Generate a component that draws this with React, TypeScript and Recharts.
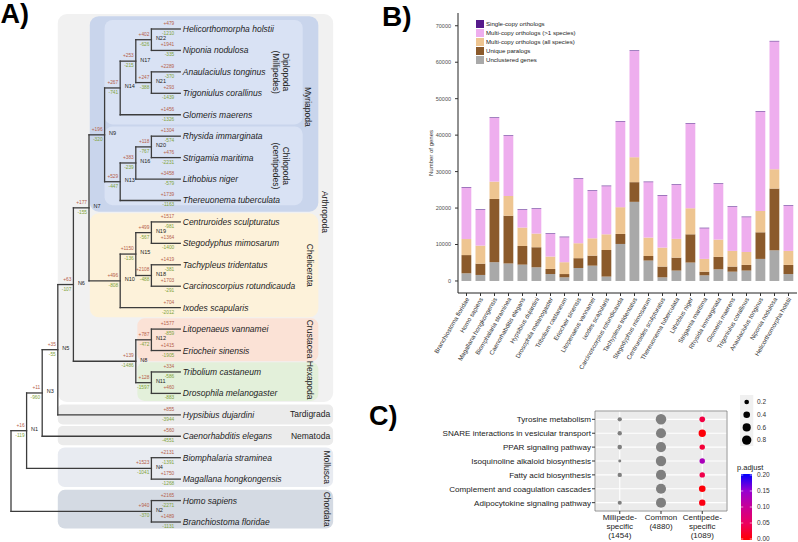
import React from "react";
import {
  ScatterChart,
  Scatter,
  XAxis,
  YAxis,
  ZAxis,
  ReferenceArea,
  ReferenceLine,
  BarChart,
  Bar,
  CartesianGrid,
  Legend,
  Cell,
} from "recharts";

const FONT = "'Liberation Sans', Arial, Helvetica, sans-serif";

// ---------------- Panel A data: species tree ----------------
const species = [
  "Helicorthomorpha holstii",
  "Niponia nodulosa",
  "Anaulaciulus tonginus",
  "Trigoniulus corallinus",
  "Glomeris maerens",
  "Rhysida immarginata",
  "Strigamia maritima",
  "Lithobius niger",
  "Thereuonema tuberculata",
  "Centruroides sculpturatus",
  "Stegodyphus mimosarum",
  "Tachypleus tridentatus",
  "Carcinoscorpius rotundicauda",
  "Ixodes scapularis",
  "Litopenaeus vannamei",
  "Eriocheir sinensis",
  "Tribolium castaneum",
  "Drosophila melanogaster",
  "Hypsibius dujardini",
  "Caenorhabditis elegans",
  "Biomphalaria straminea",
  "Magallana hongkongensis",
  "Homo sapiens",
  "Branchiostoma floridae",
];
const speciesGain = [479, 1941, 2289, 293, 1456, 1304, 476, 3458, 1739, 1517, 1364, 1419, 1703, 704, 1577, 1415, 334, 460, 855, 560, 2131, 1750, 2165, 1489];
const speciesLoss = [1210, 335, 370, 1439, 1326, 574, 2231, 579, 1163, 981, 1400, 381, 291, 2012, 859, 1905, 586, 883, 3944, 4551, 1391, 1268, 2271, 1131];

const nodeNames = ["Root", "N1", "N2", "N3", "N4", "N5", "N6", "N7", "N8", "N9", "N10", "N11", "N12", "N13", "N14", "N15", "N16", "N17", "N18", "N19", "N20", "N21", "N22"];
const nodeDepth = [0, 1, 9, 2, 9, 3, 4, 5, 8, 6, 7, 9, 9, 7, 7, 8, 8, 8, 9, 9, 9, 9, 9];
const nodeChildren = [
  ["N1", "N2"],
  ["N3", "N4"],
  ["Homo sapiens", "Branchiostoma floridae"],
  ["N5", "Caenorhabditis elegans"],
  ["Biomphalaria straminea", "Magallana hongkongensis"],
  ["N6", "Hypsibius dujardini"],
  ["N7", "N8"],
  ["N9", "N10"],
  ["N12", "N11"],
  ["N14", "N13"],
  ["N15", "Ixodes scapularis"],
  ["Tribolium castaneum", "Drosophila melanogaster"],
  ["Litopenaeus vannamei", "Eriocheir sinensis"],
  ["N16", "Thereuonema tuberculata"],
  ["N17", "Glomeris maerens"],
  ["N19", "N18"],
  ["N20", "Lithobius niger"],
  ["N22", "N21"],
  ["Tachypleus tridentatus", "Carcinoscorpius rotundicauda"],
  ["Centruroides sculpturatus", "Stegodyphus mimosarum"],
  ["Rhysida immarginata", "Strigamia maritima"],
  ["Anaulaciulus tonginus", "Trigoniulus corallinus"],
  ["Helicorthomorpha holstii", "Niponia nodulosa"],
];
const nodeGain = [0, 16, 940, 11, 1523, 35, 63, 177, 139, 196, 496, 128, 787, 529, 267, 1150, 383, 253, 2108, 499, 118, 247, 402];
const nodeLoss = [0, 119, 370, 960, 1041, 55, 107, 155, 1486, 320, 808, 1597, 472, 447, 741, 136, 239, 215, 488, 567, 767, 388, 626];

const LEAF_DEPTH = 10.85;

type TNode = { name: string; depth: number; y: number; gain: number; loss: number; kids: string[]; leaf: boolean };
const tree: Record<string, TNode> = {};
species.forEach((s, i) => {
  tree[s] = { name: s, depth: LEAF_DEPTH, y: i, gain: speciesGain[i], loss: speciesLoss[i], kids: [], leaf: true };
});
nodeNames.forEach((n, i) => {
  tree[n] = { name: n, depth: nodeDepth[i], y: NaN, gain: nodeGain[i], loss: nodeLoss[i], kids: nodeChildren[i], leaf: false };
});
function layoutY(name: string): number {
  const n = tree[name];
  if (!Number.isNaN(n.y)) return n.y;
  const ys = n.kids.map(layoutY);
  n.y = (Math.min(...ys) + Math.max(...ys)) / 2;
  return n.y;
}
layoutY("Root");

const segments: { x: number; y: number }[][] = [];
nodeNames.forEach((n) => {
  const nd = tree[n];
  const ys = nd.kids.map((k) => tree[k].y);
  segments.push([
    { x: nd.depth, y: Math.min(...ys) },
    { x: nd.depth, y: Math.max(...ys) },
  ]);
  nd.kids.forEach((k) => {
    segments.push([
      { x: nd.depth, y: tree[k].y },
      { x: tree[k].depth, y: tree[k].y },
    ]);
  });
});

const speciesPts = species.map((s, i) => ({ x: LEAF_DEPTH, y: i, label: s }));
const nodePts = nodeNames.filter((n) => n !== "Root").map((n) => ({ x: tree[n].depth, y: tree[n].y, label: n }));
const branchPts = Object.values(tree)
  .filter((n) => n.name !== "Root")
  .map((n) => ({ x: n.depth, y: n.y, gain: "+" + n.gain, loss: "-" + n.loss, leaf: n.leaf }));

// clade boxes (tree units: depth / leaf index)
const boxes = [
  { x1: 3.0, x2: 20.65, y1: -0.7, y2: 17.4, fill: "#f1f1f1", r: 9 },
  { x1: 5.05, x2: 19.7, y1: -0.6, y2: 8.52, fill: "#c9d5ec", r: 9 },
  { x1: 6.0, x2: 18.7, y1: -0.42, y2: 4.45, fill: "#d9e2f4", r: 8 },
  { x1: 6.0, x2: 18.7, y1: 4.55, y2: 8.22, fill: "#d9e2f4", r: 8 },
  { x1: 5.05, x2: 19.7, y1: 8.6, y2: 13.45, fill: "#fdf2da", r: 9 },
  { x1: 8.1, x2: 19.7, y1: 13.5, y2: 15.5, fill: "#fbe2d6", r: 7 },
  { x1: 8.1, x2: 19.7, y1: 15.55, y2: 17.35, fill: "#e3f0da", r: 7 },
  { x1: 3.0, x2: 20.65, y1: 17.52, y2: 18.45, fill: "#ebebeb", r: 5 },
  { x1: 3.0, x2: 20.65, y1: 18.52, y2: 19.42, fill: "#ebebeb", r: 5 },
  { x1: 3.0, x2: 20.65, y1: 19.52, y2: 21.37, fill: "#e8ebf1", r: 7 },
  { x1: 3.0, x2: 20.65, y1: 21.5, y2: 23.3, fill: "#d4dae3", r: 7 },
];
const cladeLabels = [
  { lines: ["Arthropoda"], rot: true, inset: 8, dy: 4, x1: 3.0, x2: 20.65, y1: -0.7, y2: 17.4 },
  { lines: ["Myriapoda"], rot: true, inset: 10, dy: -7, x1: 5.05, x2: 19.7, y1: -0.6, y2: 8.52 },
  { lines: ["Diplopoda", "(Millipedes)"], rot: true, inset: 17, dy: 0, x1: 6.0, x2: 18.7, y1: -0.42, y2: 4.45 },
  { lines: ["Chilopoda", "(centipedes)"], rot: true, inset: 17, dy: 0, x1: 6.0, x2: 18.7, y1: 4.55, y2: 8.22 },
  { lines: ["Chelicerata"], rot: true, inset: 8, dy: 0, x1: 5.05, x2: 19.7, y1: 8.6, y2: 13.45 },
  { lines: ["Crustacea Hexapoda"], rot: true, inset: 8, dy: 0, x1: 8.1, x2: 19.7, y1: 13.5, y2: 17.35 },
  { lines: ["Tardigrada"], rot: false, inset: 3, dy: 0, x1: 3.0, x2: 20.65, y1: 17.52, y2: 18.45 },
  { lines: ["Nematoda"], rot: false, inset: 3, dy: 0, x1: 3.0, x2: 20.65, y1: 18.52, y2: 19.42 },
  { lines: ["Mollusca"], rot: true, inset: 6, dy: 0, x1: 3.0, x2: 20.65, y1: 19.52, y2: 21.37 },
  { lines: ["Chordata"], rot: true, inset: 6, dy: 0, x1: 3.0, x2: 20.65, y1: 21.5, y2: 23.3 },
];

// ---------------- Panel B data: gene counts ----------------
const barSpecies = [
  "Branchiostoma floridae",
  "Homo sapiens",
  "Magallana hongkongensis",
  "Biomphalaria straminea",
  "Caenorhabditis elegans",
  "Hypsibius dujardini",
  "Drosophila melanogaster",
  "Tribolium castaneum",
  "Eriocheir sinensis",
  "Litopenaeus vannamei",
  "Ixodes scapularis",
  "Carcinoscorpius rotundicauda",
  "Tachypleus tridentatus",
  "Stegodyphus mimosarum",
  "Centruroides sculpturatus",
  "Thereuonema tuberculata",
  "Lithobius niger",
  "Strigamia maritima",
  "Rhysida immarginata",
  "Glomeris maerens",
  "Trigoniulus corallinus",
  "Anaulaciulus tonginus",
  "Niponia nodulosa",
  "Helicorthomorpha holstii",
];
const unclusteredGenes = [2100, 1650, 5150, 4800, 4480, 3750, 1900, 1000, 3550, 4200, 1200, 10150, 21700, 5600, 1000, 2850, 5050, 1550, 3200, 2550, 2850, 6050, 8400, 1900];
const uniqueParalogs = [5000, 3100, 17350, 13100, 5120, 5500, 1400, 900, 2700, 2750, 7300, 2750, 5400, 1250, 2950, 3550, 7750, 1000, 3400, 1400, 1550, 7300, 16950, 2500];
const multiCopyAll = [4400, 4950, 4750, 5400, 5050, 3750, 3400, 3250, 4100, 4750, 4300, 7350, 6850, 5050, 5200, 5150, 7150, 3500, 4750, 4300, 3550, 5850, 5300, 3850];
const multiCopySome = [14100, 9800, 17450, 16500, 4850, 6750, 6200, 6850, 17650, 13000, 13200, 23400, 29150, 15200, 14250, 14800, 23150, 8400, 15250, 12050, 9550, 27200, 35050, 12350];
const singleCopy = [150, 150, 150, 150, 150, 150, 150, 150, 150, 150, 150, 150, 150, 150, 150, 150, 150, 150, 150, 150, 150, 150, 150, 150];
const geneTicks = [0, 10000, 20000, 30000, 40000, 50000, 60000, 70000];

const barData = barSpecies.map((name, i) => ({
  name,
  unclustered: unclusteredGenes[i],
  unique: uniqueParalogs[i],
  multiAll: multiCopyAll[i],
  multiSome: multiCopySome[i],
  single: singleCopy[i],
}));
const stackSeries = [
  { key: "unclustered", name: "Unclustered genes", color: "#a9a9a9" },
  { key: "unique", name: "Unique paralogs", color: "#8b5a2b" },
  { key: "multiAll", name: "Multi-copy orthologs (all species)", color: "#eec591" },
  { key: "multiSome", name: "Multi-copy orthologs (>1 species)", color: "#eeaeee" },
  { key: "single", name: "Single-copy orthologs", color: "#551a8b" },
];

// ---------------- Panel C data: KEGG enrichment ----------------
const pathways = [
  "Tyrosine metabolism",
  "SNARE interactions in vesicular transport",
  "PPAR signaling pathway",
  "Isoquinoline alkaloid biosynthesis",
  "Fatty acid biosynthesis",
  "Complement and coagulation cascades",
  "Adipocytokine signaling pathway",
];
const groupLabels = [
  ["Millipede-", "specific", "(1454)"],
  ["Common", "(4880)"],
  ["Centipede-", "specific", "(1089)"],
];
const milliRatio: (number | null)[] = [0.17, 0.17, 0.19, 0.08, 0.17, null, 0.15];
const commonRatio = [1.0, 0.92, 0.92, 0.98, 0.92, 0.92, 0.92];
const centiRatio = [0.29, 0.49, 0.27, 0.27, 0.27, 0.4, 0.37];
const centiPadj = [0.035, 0.004, 0.03, 0.13, 0.04, 0.004, 0.01];
const sizeLegendValues = [0.2, 0.4, 0.6, 0.8];
const padjLegendValues = [0.2, 0.15, 0.1, 0.05, 0.0];

const NA_GREY = "#7f7f7f";
const padjStops: [number, number[]][] = [
  [0, [255, 0, 0]],
  [0.05, [236, 0, 94]],
  [0.1, [200, 0, 151]],
  [0.15, [150, 0, 210]],
  [0.2, [0, 0, 255]],
];
function padjColor(p: number): string {
  for (let i = 0; i < padjStops.length - 1; i++) {
    const [a, ca] = padjStops[i];
    const [b, cb] = padjStops[i + 1];
    if (p <= b) {
      const t = (p - a) / (b - a);
      const c = ca.map((v, k) => Math.round(v + (cb[k] - v) * t));
      return `rgb(${c[0]},${c[1]},${c[2]})`;
    }
  }
  return "rgb(0,0,255)";
}

const dotData: { x: number; y: number; z: number; color: string }[] = [];
pathways.forEach((_, i) => {
  const m = milliRatio[i];
  if (m !== null) dotData.push({ x: 1, y: i + 1, z: m, color: NA_GREY });
  dotData.push({ x: 2, y: i + 1, z: commonRatio[i], color: NA_GREY });
  dotData.push({ x: 3, y: i + 1, z: centiRatio[i], color: padjColor(centiPadj[i]) });
});
const SIZE_MAX_AREA = 86.7;

// ---------------- Panel A component ----------------
const normRect = (p: any) => {
  const x = Math.min(p.x, p.x + p.width);
  const y = Math.min(p.y, p.y + p.height);
  return { x, y, w: Math.abs(p.width), h: Math.abs(p.height) };
};

const boxShape = (fill: string, r: number) => (p: any) => {
  const { x, y, w, h } = normRect(p);
  return <rect x={x} y={y} width={w} height={h} rx={r} ry={r} fill={fill} />;
};

const cladeShape = (c: (typeof cladeLabels)[number]) => (p: any) => {
  const { x, y, w, h } = normRect(p);
  const right = x + w;
  const cy = y + h / 2 + c.dy;
  if (c.rot) {
    return (
      <g>
        {c.lines.map((t, k) => {
          const lx = right - c.inset - k * 10;
          return (
            <text key={k} x={lx} y={cy} dy="0.35em" transform={`rotate(90 ${lx} ${cy})`} textAnchor="middle" fontSize={8.5} fill="#222">
              {t}
            </text>
          );
        })}
      </g>
    );
  }
  return (
    <text x={right - c.inset} y={cy} dy="0.35em" textAnchor="end" fontSize={8.5} fill="#222">
      {c.lines[0]}
    </text>
  );
};

const SpeciesLabel = (p: any) => (
  <text x={p.cx + 2.5} y={p.cy} dy="0.35em" fontSize={8.5} fontStyle="italic" fill="#1e1e1e">
    {p.payload.label}
  </text>
);
const NodeLabel = (p: any) => (
  <text x={p.cx + 4.5} y={p.cy - 1.5} dy="0.35em" fontSize={5.5} fill="#222">
    {p.payload.label}
  </text>
);
const GainLabel = (p: any) => (
  <text x={p.cx - (p.payload.leaf ? 6 : 2)} y={p.cy - 5.7} dy="0.35em" textAnchor="end" fontSize={4.8} fill="#b5604a">
    {p.payload.gain}
  </text>
);
const LossLabel = (p: any) => (
  <text x={p.cx - (p.payload.leaf ? 6 : 2)} y={p.cy + 4.3} dy="0.35em" textAnchor="end" fontSize={4.8} fill="#7fa33a">
    {p.payload.loss}
  </text>
);

function TreePanel() {
  return (
    <ScatterChart width={400} height={542} margin={{ top: 0, right: 0, bottom: 0, left: 0 }}>
      <XAxis type="number" dataKey="x" domain={[-11 / 15.6, 389 / 15.6]} hide allowDataOverflow />
      <YAxis type="number" dataKey="y" domain={[-29 / 21.435, 513 / 21.435]} reversed hide allowDataOverflow />
      {boxes.map((b, i) => (
        <ReferenceArea key={"b" + i} x1={b.x1} x2={b.x2} y1={b.y1} y2={b.y2} ifOverflow="visible" shape={boxShape(b.fill, b.r)} />
      ))}
      {cladeLabels.map((c, i) => (
        <ReferenceArea key={"c" + i} x1={c.x1} x2={c.x2} y1={c.y1} y2={c.y2} ifOverflow="visible" shape={cladeShape(c)} />
      ))}
      {segments.map((s, i) => (
        <ReferenceLine key={"s" + i} segment={s} stroke="#3c3c3c" strokeWidth={1.3} strokeLinecap="square" ifOverflow="visible" />
      ))}
      <Scatter data={speciesPts} shape={SpeciesLabel} isAnimationActive={false} />
      <Scatter data={nodePts} shape={NodeLabel} isAnimationActive={false} />
      <Scatter data={branchPts} shape={GainLabel} isAnimationActive={false} />
      <Scatter data={branchPts} shape={LossLabel} isAnimationActive={false} />
    </ScatterChart>
  );
}

// ---------------- Panel B component ----------------
const RotTick = (p: any) => (
  <text x={p.x + 1} y={p.y} dy="0.35em" transform={`rotate(-60 ${p.x + 1} ${p.y})`} textAnchor="end" fontSize={6.2} fill="#333">
    {p.payload.value}
  </text>
);

const BarLegend = () => (
  <svg width={150} height={46}>
    {[...stackSeries].reverse().map((s, i) => (
      <g key={s.key}>
        <rect x={0} y={i * 9} width={8} height={8} fill={s.color} />
        <text x={10} y={i * 9 + 4} dy="0.35em" fontSize={6.1} fill="#222">
          {s.name}
        </text>
      </g>
    ))}
  </svg>
);

function BarPanel() {
  return (
    <BarChart width={398} height={376} data={barData} margin={{ top: 13, right: 1, bottom: 0, left: 0 }} barSize={9.8}>
      <XAxis
        dataKey="name"
        type="category"
        interval={0}
        height={83}
        tickSize={3}
        tickMargin={2}
        tick={<RotTick />}
        axisLine={{ stroke: "#222" }}
        tickLine={{ stroke: "#333" }}
        padding={{ left: 1.5, right: 1.5 }}
      />
      <YAxis
        type="number"
        domain={[-3300, 73500]}
        ticks={geneTicks}
        interval={0}
        allowDataOverflow
        width={58}
        tickSize={3}
        tickMargin={4}
        tick={{ fontSize: 5.5, fill: "#4d4d4d" }}
        axisLine={{ stroke: "#222" }}
        tickLine={{ stroke: "#333" }}
        label={{
          position: "center",
          content: (lp: any) => {
            const vb = lp.viewBox || { x: 0, y: 13, width: 58, height: 280 };
            const lx = vb.x + 33;
            const ly = vb.y + vb.height / 2;
            return (
              <text x={lx} y={ly} transform={`rotate(-90 ${lx} ${ly})`} textAnchor="middle" fontSize={6} fill="#333">
                Number of genes
              </text>
            );
          },
        }}
      />
      {stackSeries.map((s) => (
        <Bar key={s.key} dataKey={s.key} name={s.name} stackId="g" fill={s.color} isAnimationActive={false} />
      ))}
      <Legend
        layout="vertical"
        align="center"
        verticalAlign="middle"
        wrapperStyle={{ left: 76, top: 20, width: 150, height: 46 }}
        content={() => <BarLegend />}
      />
    </BarChart>
  );
}

// ---------------- Panel C component ----------------
const PathTick = (p: any) => (
  <text x={p.x} y={p.y} dy="0.35em" textAnchor="end" fontSize={8.1} fill="#222">
    {pathways[p.payload.value - 1]}
  </text>
);
const GroupTick = (p: any) => {
  const lines = groupLabels[p.payload.value - 1] || [];
  return (
    <g>
      {lines.map((t, k) => (
        <text key={k} x={p.x} y={p.y + 1 + k * 9} dy="0.35em" textAnchor="middle" fontSize={8} fill="#222">
          {t}
        </text>
      ))}
    </g>
  );
};

const DotLegend = () => {
  const gradId = "padjGrad";
  return (
    <svg width={70} height={152}>
      <defs>
        <linearGradient id={gradId} x1="0" y1="0" x2="0" y2="1">
          {padjStops
            .slice()
            .reverse()
            .map(([v, c]) => (
              <stop key={v} offset={`${((0.2 - v) / 0.2) * 100}%`} stopColor={`rgb(${c[0]},${c[1]},${c[2]})`} />
            ))}
        </linearGradient>
      </defs>
      <rect x={6} y={5} width={13.3} height={51} fill="#f0f0f0" />
      {sizeLegendValues.map((v, i) => (
        <g key={v}>
          <circle cx={12.7} cy={12 + i * 12.7} r={Math.sqrt((v * SIZE_MAX_AREA) / Math.PI)} fill="#000" />
          <text x={23} y={12 + i * 12.7} dy="0.35em" fontSize={6.5} fill="#333">
            {v.toFixed(1)}
          </text>
        </g>
      ))}
      <text x={3} y={77} dy="0.35em" fontSize={7.5} fill="#222">
        p.adjust
      </text>
      <rect x={7} y={84} width={11} height={66} fill={`url(#${gradId})`} />
      {padjLegendValues.map((v, i) => (
        <g key={v}>
          <line x1={7} x2={9.2} y1={85 + i * 16} y2={85 + i * 16} stroke="#fff" strokeWidth={0.6} />
          <line x1={15.8} x2={18} y1={85 + i * 16} y2={85 + i * 16} stroke="#fff" strokeWidth={0.6} />
          <text x={23} y={85 + i * 16} dy="0.35em" fontSize={6.5} fill="#333">
            {v.toFixed(2)}
          </text>
        </g>
      ))}
    </svg>
  );
};

function DotPanel() {
  return (
    <ScatterChart width={398} height={182} margin={{ top: 51, right: 71, bottom: 0, left: 0 }}>
      <CartesianGrid fill="#ebebeb" stroke="#ffffff" strokeWidth={1.1} />
      <XAxis
        type="number"
        dataKey="x"
        domain={[0.4, 3.6]}
        ticks={[1, 2, 3]}
        interval={0}
        allowDataOverflow
        height={31}
        tickSize={3}
        tickMargin={2}
        tick={<GroupTick />}
        tickLine={{ stroke: "#333" }}
        axisLine={false}
      />
      <YAxis
        type="number"
        dataKey="y"
        domain={[0.4, 7.6]}
        ticks={[1, 2, 3, 4, 5, 6, 7]}
        interval={0}
        reversed
        allowDataOverflow
        width={195}
        tickSize={3}
        tickMargin={1}
        tick={<PathTick />}
        tickLine={{ stroke: "#333" }}
        axisLine={false}
      />
      <ZAxis type="number" dataKey="z" domain={[0, 1]} range={[0, SIZE_MAX_AREA]} />
      <ReferenceArea x1={0.4} x2={3.6} y1={0.4} y2={7.6} fill="none" fillOpacity={0} stroke="#7a7a7a" strokeWidth={0.8} ifOverflow="visible" />
      <Scatter data={dotData} isAnimationActive={false}>
        {dotData.map((d, i) => (
          <Cell key={i} fill={d.color} />
        ))}
      </Scatter>
      <Legend
        layout="vertical"
        align="center"
        verticalAlign="middle"
        wrapperStyle={{ left: 334, top: 30, width: 70, height: 152 }}
        content={() => <DotLegend />}
      />
    </ScatterChart>
  );
}

export default function App() {
  return (
    <div
      style={{
        position: "absolute",
        left: 0,
        top: 0,
        width: 798,
        height: 542,
        background: "#fff",
        fontFamily: FONT,
        overflow: "hidden",
      }}
    >
      <div style={{ position: "absolute", left: 0, top: 0 }}>
        <TreePanel />
      </div>
      <div style={{ position: "absolute", left: 400, top: 360 }}>
        <DotPanel />
      </div>
      <div style={{ position: "absolute", left: 400, top: 0 }}>
        <BarPanel />
      </div>
      <svg width={798} height={542} style={{ position: "absolute", left: 0, top: 0, pointerEvents: "none" }}>
        <text x={0.5} y={23} fontSize={27} fontWeight="bold" fill="#000">
          A)
        </text>
        <text x={382} y={26} fontSize={28} fontWeight="bold" fill="#000">
          B)
        </text>
        <text x={369} y={425} fontSize={27} fontWeight="bold" fill="#000">
          C)
        </text>
      </svg>
    </div>
  );
}
